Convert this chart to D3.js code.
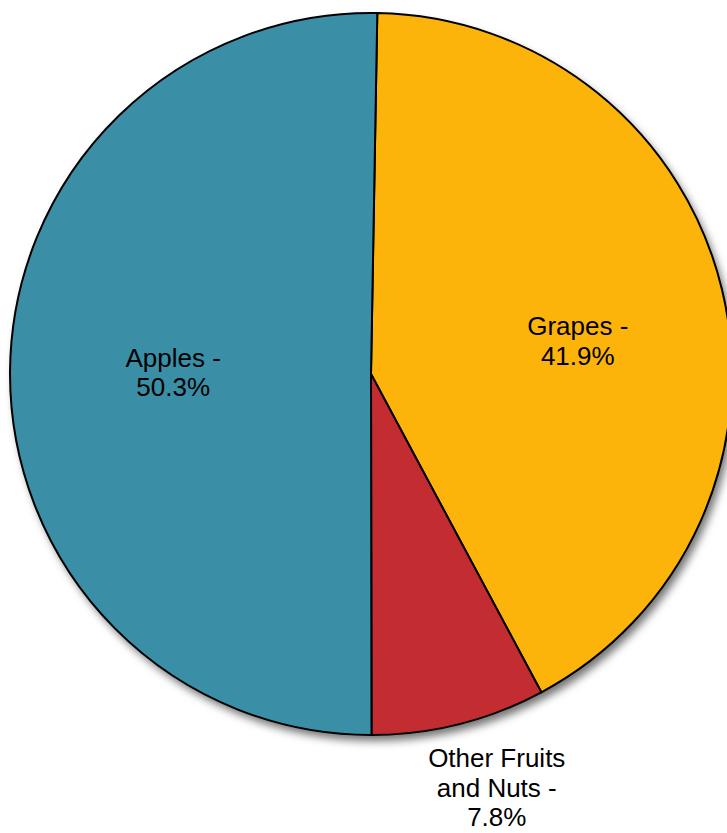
<!DOCTYPE html>
<html>
<head>
<meta charset="utf-8">
<script src="https://cdn.jsdelivr.net/npm/d3@7"></script>
<style>
  html, body { margin: 0; padding: 0; background: #ffffff; }
  svg { display: block; }
</style>
</head>
<body>
<div id="chart"></div>
<script>
// Shares of production by crop (percent)
const categories = ["Grapes", "Other Fruits and Nuts", "Apples"];
const shares = [41.9, 7.8, 50.3];
const labelLines = [
  ["Grapes -", "41.9%"],
  ["Other Fruits", "and Nuts -", "7.8%"],
  ["Apples -", "50.3%"]
];
const colors = ["#FDB40A", "#C32D31", "#3A8FA6"];

const width = 727, height = 833;
const cx = 371, cy = 374, radius = 361;

const svg = d3.select("#chart").append("svg")
  .attr("width", width)
  .attr("height", height);

svg.append("rect").attr("width", width).attr("height", height).attr("fill", "#fff");

// soft drop shadow under the pie
const defs = svg.append("defs");
const f = defs.append("filter").attr("id", "shadow")
  .attr("x", "-10%").attr("y", "-10%").attr("width", "120%").attr("height", "120%");
f.append("feDropShadow")
  .attr("dx", 4).attr("dy", 6).attr("stdDeviation", 4)
  .attr("flood-color", "#000").attr("flood-opacity", 0.55);

const data = categories.map((c, i) => ({ name: c, value: shares[i], color: colors[i], lines: labelLines[i] }));

const startOffset = 1.0 * Math.PI / 180;
const pie = d3.pie()
  .value(d => d.value)
  .sort(null)
  .startAngle(startOffset)
  .endAngle(startOffset + 2 * Math.PI);

const arcs = pie(data);
const arc = d3.arc().innerRadius(0).outerRadius(radius);

const g = svg.append("g").attr("transform", `translate(${cx},${cy})`);

g.append("circle").attr("r", radius).attr("fill", "#fff").attr("filter", "url(#shadow)");

g.selectAll("path.slice")
  .data(arcs)
  .join("path")
  .attr("class", "slice")
  .attr("d", arc)
  .attr("fill", d => d.data.color)
  .attr("stroke", "#000")
  .attr("stroke-width", 2)
  .attr("stroke-linejoin", "round");

// label placement: radius fraction and angular nudge (degrees) per slice
const labelPlacement = {
  "Grapes": { r: 0.58, nudge: 4.5 },
  "Other Fruits and Nuts": { r: 1.197, nudge: -2.8 },
  "Apples": { r: 0.548, nudge: 0 }
};

const fontSize = 26, lineH = 29.5;

arcs.forEach(a => {
  const p = labelPlacement[a.data.name];
  const mid = (a.startAngle + a.endAngle) / 2 + p.nudge * Math.PI / 180;
  const x = Math.sin(mid) * radius * p.r;
  const y = -Math.cos(mid) * radius * p.r;
  const n = a.data.lines.length;
  const t = g.append("text")
    .attr("text-anchor", "middle")
    .attr("font-family", "'Liberation Sans', Arial, sans-serif")
    .attr("font-size", fontSize)
    .attr("fill", "#000");
  a.data.lines.forEach((line, i) => {
    t.append("tspan")
      .attr("x", x)
      .attr("y", y + (i - (n - 1) / 2) * lineH + fontSize * 0.35)
      .text(line);
  });
});
</script>
</body>
</html>
